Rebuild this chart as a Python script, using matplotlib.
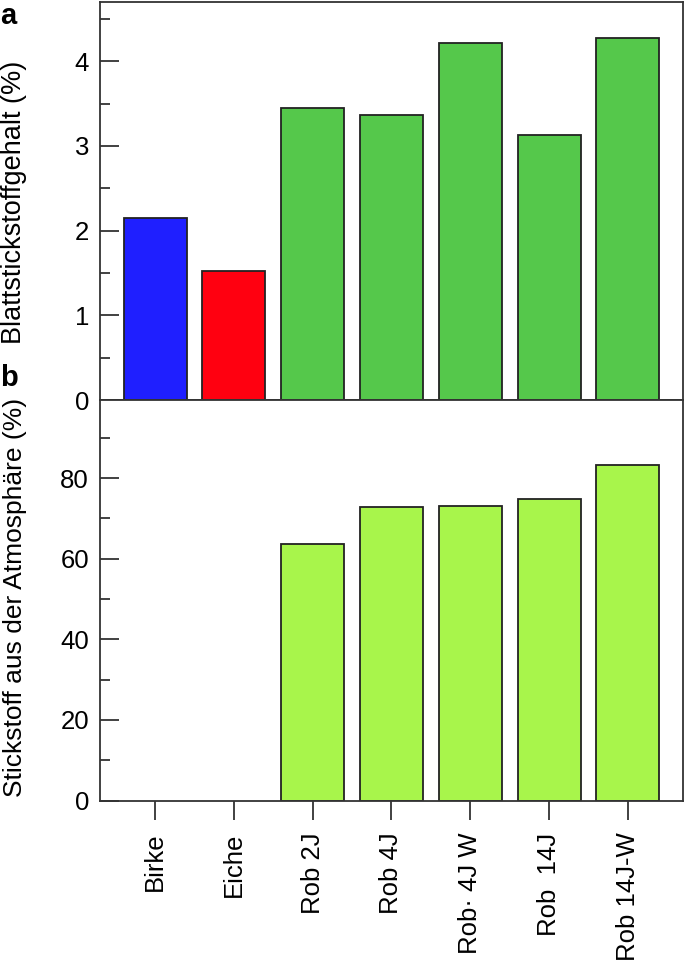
import numpy as np
import matplotlib
matplotlib.use("Agg")
import matplotlib.pyplot as plt
from matplotlib.ticker import MultipleLocator

plt.rcParams['font.family'] = ['Liberation Sans', 'DejaVu Sans']

# categories and values
labels = ['Birke', 'Eiche', 'Rob 2J', 'Rob 4J', 'Rob\u00b7 4J W', 'Rob  14J', 'Rob 14J-W']
blatt_n = [2.15, 1.52, 3.45, 3.37, 4.21, 3.13, 4.28]
blatt_colors = ['#1f1fff', '#ff0010', '#55c84b', '#55c84b', '#55c84b', '#55c84b', '#55c84b']
atm_n = [np.nan, np.nan, 63.6, 72.8, 73.2, 74.8, 83.2]
atm_color = '#a8f54b'

x = np.arange(len(labels))
spine_col = '#333333'

fig = plt.figure(figsize=(6.85, 9.63), dpi=100)
ax_a = fig.add_axes([0.146, 0.5846, 0.851, 0.4134])
ax_b = fig.add_axes([0.146, 0.1687, 0.851, 0.4159])

# panel a - leaf nitrogen
ax_a.bar(x, blatt_n, width=0.8, color=blatt_colors, edgecolor='#222222', linewidth=1.3)
ax_a.set_ylim(0, 4.7)
ax_a.yaxis.set_major_locator(MultipleLocator(1))
ax_a.yaxis.set_minor_locator(MultipleLocator(0.5))
ax_a.set_ylabel('Blattstickstoffgehalt (%)', fontsize=19.5)
ax_a.yaxis.set_label_coords(-0.125, 0.496)
ax_a.set_xticks([])

# panel b - N from atmosphere
ax_b.bar(x, atm_n, width=0.8, color=atm_color, edgecolor='#222222', linewidth=1.3)
ax_b.set_ylim(0, 99.4)
ax_b.yaxis.set_major_locator(MultipleLocator(20))
ax_b.yaxis.set_minor_locator(MultipleLocator(10))
ax_b.set_ylabel('Stickstoff aus der Atmosphäre (%)', fontsize=19)
ax_b.yaxis.set_label_coords(-0.125, 0.506)
ax_b.set_xticks(x)
ax_b.set_xticklabels(labels, rotation=90, fontsize=18.5)
ax_b.tick_params(axis='x', direction='out', length=14, width=1.3, pad=9, colors=spine_col, labelcolor='black')

for ax in (ax_a, ax_b):
    ax.set_xlim(-0.7, 6.7)
    ax.tick_params(axis='y', which='major', direction='in', length=14, width=1.3, pad=8, labelsize=18.5, colors=spine_col, labelcolor='black')
    ax.tick_params(axis='y', which='minor', direction='in', length=7, width=1.3, colors=spine_col)
    for s in ax.spines.values():
        s.set_color(spine_col)
        s.set_linewidth(1.3)

fig.text(0.0, 0.998, 'a', fontsize=21, fontweight='bold', va='top', ha='left')
fig.text(0.0, 0.622, 'b', fontsize=21, fontweight='bold', va='top', ha='left')

fig.savefig('out.png', dpi=100)
